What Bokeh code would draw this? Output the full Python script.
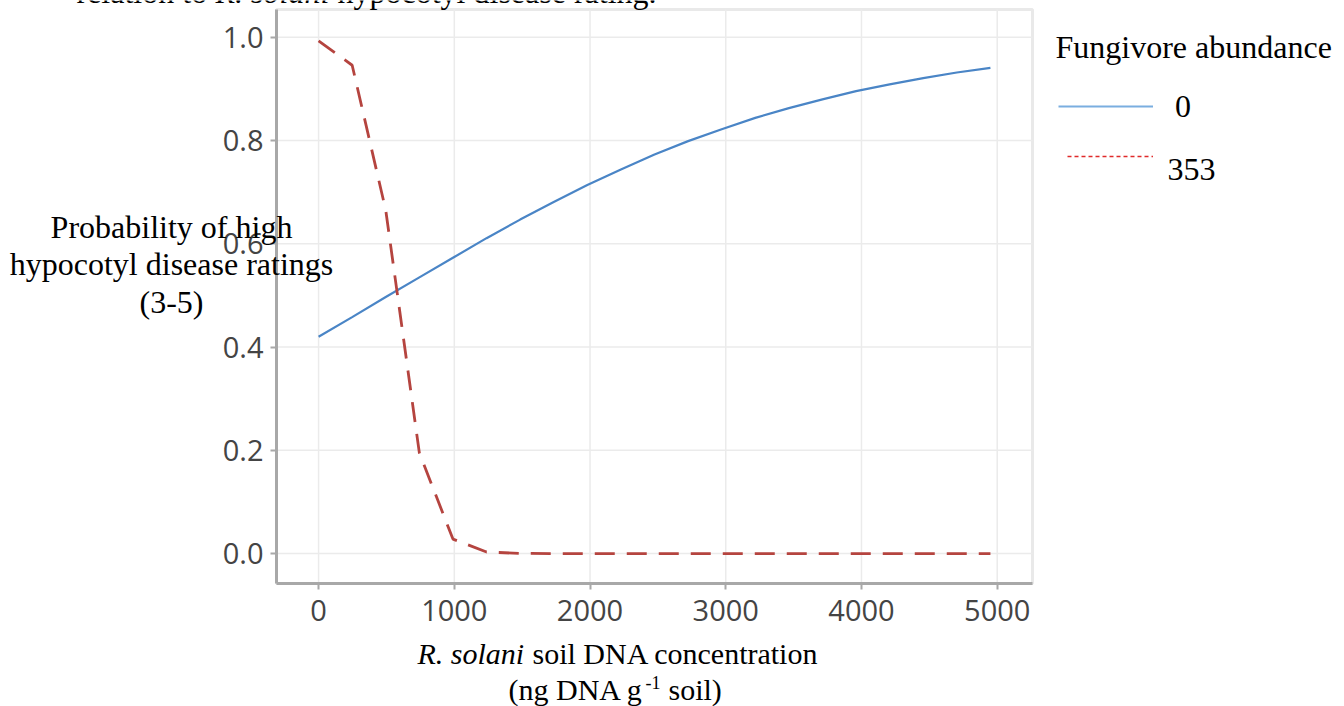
from bokeh.plotting import figure
from bokeh.models import (Range1d, FixedTicker, PrintfTickFormatter, Label,
                          Legend, LegendItem, LinearAxis, BoxAnnotation)
from bokeh.embed import file_html
from bokeh.resources import INLINE

# Predicted probability of high hypocotyl disease ratings (3-5)
# along the R. solani soil DNA gradient, for two fungivore abundances.
dna_conc = [0, 247.5, 495, 742.5, 990, 1237.5, 1485, 1732.5, 1980, 2227.5,
            2475, 2722.5, 2970, 3217.5, 3465, 3712.5, 3960, 4207.5, 4455,
            4702.5, 4950]
prob_fungivore_0 = [0.420, 0.458, 0.497, 0.535, 0.573, 0.611, 0.647, 0.681,
                    0.714, 0.744, 0.773, 0.799, 0.822, 0.844, 0.863, 0.880,
                    0.896, 0.909, 0.921, 0.932, 0.941]
prob_fungivore_353 = [0.993, 0.946, 0.665, 0.195, 0.028, 0.003, 0.0003, 0.0,
                      0.0, 0.0, 0.0, 0.0, 0.0, 0.0, 0.0, 0.0, 0.0, 0.0, 0.0,
                      0.0, 0.0]
x_ticks = [0, 1000, 2000, 3000, 4000, 5000]
y_ticks = [0.0, 0.2, 0.4, 0.6, 0.8, 1.0]
legend_title = "Fungivore abundance"
legend_labels = ["0", "353"]

# page size and the pixel box of the data panel
W, H = 1344, 706
PANEL_L, PANEL_R, PANEL_T, PANEL_B = 276, 1032, 9, 583
# data extent of the panel
X0, X1 = -310, 5260
Y0, Y1 = -0.058, 1.054
UX = (X1 - X0) / (PANEL_R - PANEL_L)
UY = (Y1 - Y0) / (PANEL_B - PANEL_T)

SERIF = "Liberation Serif"
SANS = "Open Sans"
NAN = float("nan")


def data_x(px):
    return X0 + (px - PANEL_L) * UX


def data_y(py):
    return Y0 + (PANEL_B - py) * UY


# the plotting frame spans the whole page, so titles and legend can sit
# anywhere around the panel; the axes are pinned to the panel edges
p = figure(width=W, height=H, output_backend="svg", toolbar_location=None,
           x_axis_location=None, y_axis_location=None,
           x_range=Range1d(data_x(0), data_x(W)),
           y_range=Range1d(data_y(H), data_y(0)))
p.min_border = 0
p.min_border_left = p.min_border_right = 0
p.min_border_top = p.min_border_bottom = 0
p.outline_line_color = None
p.background_fill_color = "white"
p.border_fill_color = "white"
p.grid.visible = False

# grid lines inside the panel
p.segment(x0=x_ticks, x1=x_ticks, y0=[Y0] * len(x_ticks), y1=[Y1] * len(x_ticks),
          line_color="#ebebeb", line_width=1.5)
p.segment(x0=[X0] * len(y_ticks), x1=[X1] * len(y_ticks), y0=y_ticks, y1=y_ticks,
          line_color="#ebebeb", line_width=1.5)

# panel border
p.add_layout(BoxAnnotation(left=X0, right=X1, bottom=Y0, top=Y1,
                           fill_alpha=0, line_color="#b5b5b5", line_width=3,
                           level="underlay"))

# axes
xaxis = LinearAxis(fixed_location=Y0, bounds=(X0, X1),
                   ticker=FixedTicker(ticks=x_ticks),
                   formatter=PrintfTickFormatter(format="%d"))
yaxis = LinearAxis(fixed_location=X0, bounds=(Y0, Y1),
                   ticker=FixedTicker(ticks=y_ticks),
                   formatter=PrintfTickFormatter(format="%.1f"))
for ax in (xaxis, yaxis):
    ax.axis_line_color = "#a8a8a8"
    ax.axis_line_width = 3
    ax.major_tick_line_color = "#a8a8a8"
    ax.major_tick_line_width = 2
    ax.major_tick_out = 6
    ax.major_tick_in = 0
    ax.minor_tick_line_color = None
    ax.major_label_text_font = SANS
    ax.major_label_text_font_size = "29px"
    ax.major_label_text_color = "#444444"
xaxis.major_label_standoff = 10
yaxis.major_label_standoff = 7
p.add_layout(xaxis, "below")
p.add_layout(yaxis, "left")

# fitted curves
p.line(dna_conc, prob_fungivore_0, line_color="#4a85c6", line_width=2.2)
p.line(dna_conc, prob_fungivore_353, line_color="#b5443f", line_width=2.8,
       line_dash="20 12")

# legend keys (styled samples only, no data of their own)
key0 = p.line(x=[NAN, NAN], y=[NAN, NAN], line_color="#7aaee0", line_width=2)
key353 = p.line(x=[NAN, NAN], y=[NAN, NAN], line_color="#e02a2a",
                line_width=1.5, line_dash="4 3")

common = dict(padding=0, margin=0, spacing=0, border_line_color=None,
              background_fill_alpha=0, label_text_font=SERIF,
              label_text_font_size="32px", label_text_color="black")
leg0 = Legend(items=[LegendItem(label=legend_labels[0], renderers=[key0])],
              location=(1058, H - 126), glyph_width=95,
              glyph_height=40, label_height=40, label_standoff=22, **common)
# the "353" key sits a little above its label, so the label is set apart
leg353 = Legend(items=[LegendItem(label=" ", renderers=[key353])],
                location=(1067, H - 166), glyph_width=86,
                glyph_height=20, label_height=20, label_standoff=0, **common)
p.add_layout(leg0)
p.add_layout(leg353)


def text(px, baseline, s, size=32, style="normal", align="left"):
    # anchor on the middle of the line box: baseline minus a third of an em
    mid = baseline - 0.3375 * size
    p.add_layout(Label(x=data_x(px), y=data_y(mid), text=s,
                       text_font=SERIF, text_font_size=f"{size}px",
                       text_font_style=style, text_align=align,
                       text_baseline="middle", text_color="black"))


# legend heading and second key label
text(1055, 57, legend_title)
text(1167, 180, legend_labels[1])

# caption line running above the panel
text(76, 2, "relation to")
text(215, 2, "R. solani", style="italic")
text(337, 2, "hypocotyl disease rating.")

# y-axis title
text(171, 237, "Probability of high", align="center")
text(171, 274, "hypocotyl disease ratings", align="center")
text(171, 312, "(3-5)", align="center")

# x-axis title
text(417, 663, "R. solani", size=30, style="italic")
text(532, 663, "soil DNA concentration", size=30)
text(508, 699, "(ng DNA g", size=30)
text(645, 688, "-1", size=18)
text(668, 699, "soil)", size=30)

open("out.html", "w").write(file_html(p, INLINE))
